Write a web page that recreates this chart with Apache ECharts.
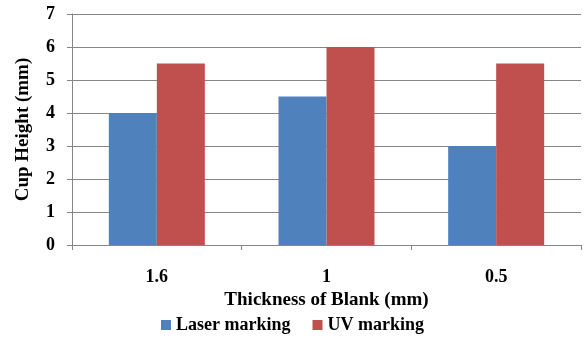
<!DOCTYPE html>
<html>
<head>
<meta charset="utf-8">
<script src="https://cdn.jsdelivr.net/npm/echarts@6/dist/echarts.min.js"></script>
<style>
  html, body { margin: 0; padding: 0; background: #fff; }
  #chart { width: 585px; height: 340px; }
</style>
</head>
<body>
<div id="chart"></div>
<script>
const categories = ['1.6', '1', '0.5'];
const laserMarking = [4, 4.5, 3];
const uvMarking = [5.5, 6, 5.5];

const font = 'Liberation Serif';
const gridColor = '#868686';

const chart = echarts.init(document.getElementById('chart'));

chart.setOption({
  animation: false,
  textStyle: { fontFamily: font },
  grid: { left: 72, right: 4, top: 14, bottom: 95 },
  legend: {
    bottom: 1,
    left: 'center',
    itemWidth: 10,
    itemHeight: 10,
    itemGap: 22,
    icon: 'rect',
    formatter: name => '{t|' + name + '}',
    textStyle: {
      fontFamily: font, fontSize: 18, fontWeight: 'bold', color: '#000',
      rich: { t: { fontFamily: font, fontSize: 18, fontWeight: 'bold', color: '#000' } }
    },
    data: ['Laser marking', 'UV marking']
  },
  xAxis: {
    type: 'category',
    data: categories,
    name: 'Thickness of Blank (mm)',
    nameLocation: 'middle',
    nameGap: 44,
    nameTextStyle: { fontFamily: font, fontSize: 19, fontWeight: 'bold', color: '#000' },
    axisLine: { lineStyle: { color: gridColor } },
    axisTick: { show: true, length: 5, lineStyle: { color: gridColor } },
    axisLabel: { margin: 23, fontFamily: font, fontSize: 18, fontWeight: 'bold', color: '#000' }
  },
  yAxis: {
    type: 'value',
    min: 0,
    max: 7,
    interval: 1,
    name: 'Cup Height (mm)',
    nameLocation: 'middle',
    nameGap: 39,
    nameTextStyle: { fontFamily: font, fontSize: 19, fontWeight: 'bold', color: '#000' },
    axisLine: { show: true, lineStyle: { color: gridColor } },
    axisTick: { show: true, length: 5, lineStyle: { color: gridColor } },
    axisLabel: { margin: 17, fontFamily: font, fontSize: 18, fontWeight: 'bold', color: '#000' },
    splitLine: { lineStyle: { color: gridColor } }
  },
  series: [
    {
      name: 'Laser marking',
      type: 'bar',
      data: laserMarking,
      barWidth: 48,
      barGap: '0%',
      itemStyle: { color: '#4F81BD' }
    },
    {
      name: 'UV marking',
      type: 'bar',
      data: uvMarking,
      barWidth: 48,
      itemStyle: { color: '#C0504D' }
    }
  ]
});
</script>
</body>
</html>
